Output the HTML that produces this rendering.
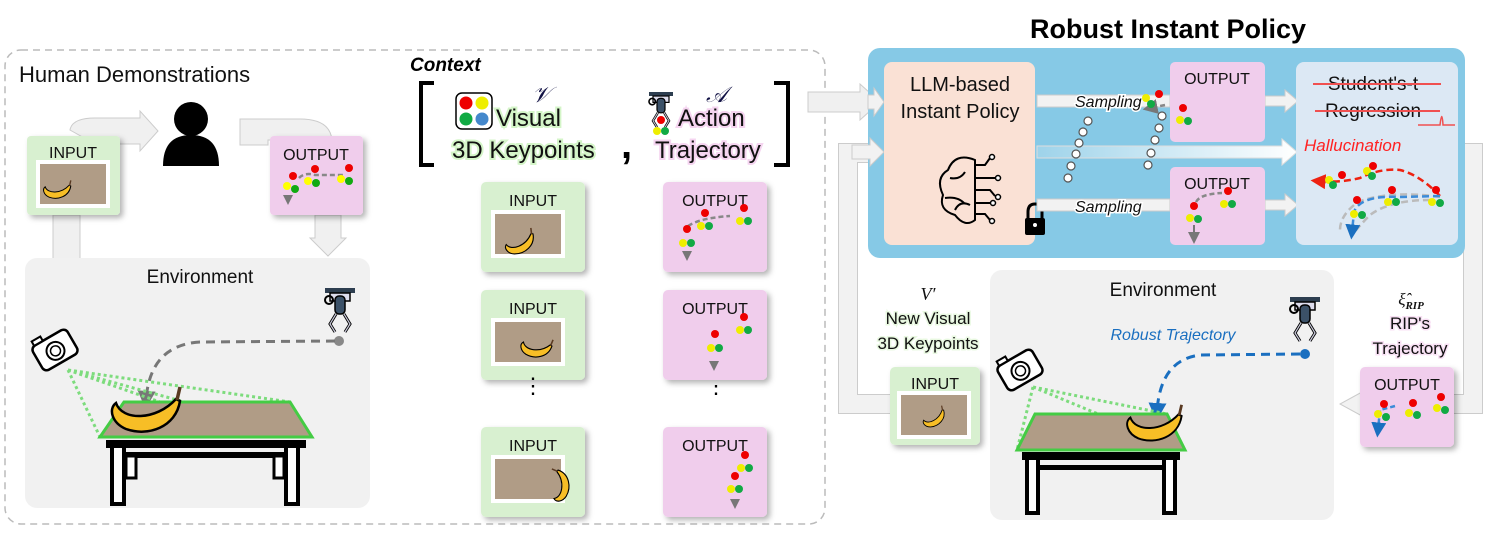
<!DOCTYPE html>
<html><head><meta charset="utf-8">
<style>
html,body{margin:0;padding:0;background:#fff;}
svg{display:block;font-family:"Liberation Sans",sans-serif;}
</style></head>
<body>
<svg width="1495" height="535" viewBox="0 0 1495 535" xmlns="http://www.w3.org/2000/svg">
<defs>
  <filter id="sh" x="-20%" y="-20%" width="150%" height="150%">
    <feDropShadow dx="3" dy="3" stdDeviation="3" flood-color="#000" flood-opacity="0.3"/>
  </filter>
  <marker id="ag" markerWidth="6" markerHeight="6" refX="3" refY="3" orient="auto"><path d="M0,0 L6,3 L0,6z" fill="#777"/></marker>
  <marker id="ab" markerWidth="6" markerHeight="6" refX="3" refY="3" orient="auto"><path d="M0,0 L6,3 L0,6z" fill="#1a6fc0"/></marker>
  <marker id="ar" markerWidth="6" markerHeight="6" refX="3" refY="3" orient="auto"><path d="M0,0 L6,3 L0,6z" fill="#e21"/></marker>
  <g id="robot">
    <rect x="-15" y="0" width="30" height="5" fill="#2d3e50"/>
    <rect x="-10" y="5" width="20" height="8" fill="#dde" stroke="#000" stroke-width="1.5"/>
    <rect x="-5" y="8" width="10" height="18" rx="4" fill="#3b5168" stroke="#000" stroke-width="1.5"/>
    <circle cx="-11" cy="12" r="4" fill="none" stroke="#000" stroke-width="2"/>
    <path d="M-4,26 L-10,36 L-5,44 M4,26 L10,36 L5,44" fill="none" stroke="#000" stroke-width="3"/>
    <path d="M-4,26 L-10,36 L-5,44 M4,26 L10,36 L5,44" fill="none" stroke="#ccd" stroke-width="1.2"/>
  </g>
  <g id="cam">
    <rect x="-20" y="-14" width="40" height="28" rx="5" fill="#fff" stroke="#000" stroke-width="2.5"/>
    <rect x="-16" y="-19" width="10" height="5" fill="#fff" stroke="#000" stroke-width="2"/>
    <circle cx="0" cy="1" r="9" fill="#fff" stroke="#000" stroke-width="2"/>
    <circle cx="0" cy="1" r="5" fill="none" stroke="#000" stroke-width="1.5"/>
  </g>
  <g id="banana">
    <path d="M-32,-8 C-26,10 8,10 28,-12 L32,-10 C28,16 0,26 -22,18 C-36,12 -40,-2 -32,-8 Z" fill="#f7be26" stroke="#000" stroke-width="2.5"/>
    <path d="M29,-11 L32,-24" stroke="#5a3a22" stroke-width="3.5"/>
  </g>
  <g id="thumb">
    <rect x="0" y="0" width="74" height="48" fill="#fff"/>
    <rect x="4" y="4" width="66" height="40" fill="#b09c86"/>
  </g>
</defs>

<rect x="5" y="50" width="820" height="474" rx="16" fill="none" stroke="#bbb" stroke-width="1.5" stroke-dasharray="7,5"/>
<text x="19" y="82" font-size="22" fill="#111">Human Demonstrations</text>

<g fill="#f0f0f0" stroke="#ccc" stroke-width="1">
  <path d="M70,130 Q72,118 95,118 L140,118 L140,111 L158,131 L140,151 L140,144 L95,144 Z"/>
  <path d="M240,119 L300,119 Q330,119 332,140 L268,140 L268,145 L240,145 Z"/>
  <rect x="53" y="215" width="27" height="45"/>
  <path d="M315,215 L341,215 L341,238 L346,238 L328,256 L310,238 L315,238 Z"/>
</g>
<circle cx="191" cy="119" r="17" fill="#000"/>
<path d="M163,166 Q163,135 191,135 Q219,135 219,166 Z" fill="#000"/>

<rect x="27" y="136" width="93" height="79" rx="4" fill="#d8f0d0" filter="url(#sh)"/>
<text x="73" y="158" font-size="16" text-anchor="middle" fill="#111">INPUT</text>
<use href="#thumb" x="36" y="160"/>
<g transform="translate(58,190) scale(0.4)"><use href="#banana"/></g>
<rect x="270" y="136" width="93" height="79" rx="4" fill="#f0cdec" filter="url(#sh)"/>
<text x="316" y="160" font-size="16" text-anchor="middle" fill="#111">OUTPUT</text>
<path d="M299,178 Q305,172 315,175 L345,175" stroke="#888" stroke-width="2.5" stroke-dasharray="5,3" fill="none"/>
<g><circle cx="293" cy="176" r="4" fill="#e00"/><circle cx="315" cy="169" r="4" fill="#e00"/><circle cx="349" cy="168" r="4" fill="#e00"/>
<circle cx="287" cy="186" r="4" fill="#ff0"/><circle cx="295" cy="189" r="4" fill="#1a1"/><circle cx="308" cy="181" r="4" fill="#ff0"/><circle cx="316" cy="183" r="4" fill="#1a1"/><circle cx="341" cy="179" r="4" fill="#ff0"/><circle cx="349" cy="181" r="4" fill="#1a1"/>
<path d="M283,195 L293,195 L288,205z" fill="#777"/></g>

<rect x="25" y="258" width="345" height="250" rx="12" fill="#f1f1f1"/>
<text x="200" y="283" font-size="19" text-anchor="middle" fill="#111">Environment</text>
<g transform="translate(340,288)"><use href="#robot"/></g>
<circle cx="339" cy="341" r="5" fill="#888"/>
<path d="M335,341 L200,342 Q150,345 146,400" stroke="#777" stroke-width="3" stroke-dasharray="9,6" fill="none" marker-end="url(#ag)"/>
<g transform="translate(55,350) rotate(-30)"><use href="#cam"/></g>
<path d="M68,370 L100,437 M68,370 L290,402 M68,370 L312,437 M68,370 L160,402" stroke="#7ddc7d" stroke-width="3" stroke-dasharray="3,3" fill="none"/>
<polygon points="100,437 124,402 290,402 312,437" fill="#b09c86" stroke="#4c4" stroke-width="3"/>
<path d="M106,440 L306,440 L306,448 L106,448z" fill="#000"/>
<rect x="112" y="446" width="12" height="58" fill="#fff" stroke="#000" stroke-width="4"/>
<rect x="286" y="446" width="12" height="58" fill="#fff" stroke="#000" stroke-width="4"/>
<rect x="125" y="452" width="160" height="6" fill="#000"/>
<rect x="126" y="456" width="10" height="22" fill="#fff" stroke="#000" stroke-width="3"/>
<rect x="274" y="456" width="10" height="22" fill="#fff" stroke="#000" stroke-width="3"/>
<g transform="translate(148,411) scale(1.0)"><use href="#banana"/></g>

<text x="410" y="71" font-size="19" font-weight="bold" font-style="italic" fill="#000">Context</text>
<path d="M434,83 L421,83 L421,165 L434,165" stroke="#000" stroke-width="4" fill="none"/>
<path d="M774,83 L788,83 L788,165 L774,165" stroke="#000" stroke-width="4" fill="none"/>
<text x="532" y="102" font-size="22" font-style="italic" font-family="Liberation Serif,serif" fill="#114">𝒱</text>
<rect x="456" y="93" width="36" height="36" rx="6" fill="#fff" stroke="#000" stroke-width="1.5"/>
<circle cx="466" cy="103" r="6.5" fill="#e00"/><circle cx="482" cy="103" r="6.5" fill="#ee0"/>
<circle cx="466" cy="119" r="6.5" fill="#1a4"/><circle cx="482" cy="119" r="6.5" fill="#48c"/>
<g font-size="24" fill="#111" style="paint-order:stroke" stroke="#d4f5c8" stroke-width="4">
<text x="496" y="126">Visual</text>
<text x="452" y="158">3D Keypoints</text>
</g>
<text x="621" y="158" font-size="40" font-weight="bold" fill="#000">,</text>
<text x="706" y="102" font-size="22" font-style="italic" font-family="Liberation Serif,serif" fill="#114">𝒜</text>
<g transform="translate(661,92) scale(0.8)"><use href="#robot"/></g>
<circle cx="661" cy="120" r="4" fill="#e00"/><circle cx="657" cy="131" r="4" fill="#ee0"/><circle cx="665" cy="131" r="4" fill="#1a4"/>
<g font-size="24" fill="#111" style="paint-order:stroke" stroke="#f5d4f0" stroke-width="4">
<text x="678" y="126">Action</text>
<text x="655" y="158">Trajectory</text>
</g>

<g>
  <rect x="481" y="182" width="104" height="90" rx="5" fill="#d8f0d0" filter="url(#sh)"/>
  <text x="533" y="206" font-size="16" text-anchor="middle" fill="#111">INPUT</text>
  <use href="#thumb" x="491" y="210"/>
  <g transform="translate(521,243) scale(0.45) rotate(-20)"><use href="#banana"/></g>

  <rect x="481" y="290" width="104" height="90" rx="5" fill="#d8f0d0" filter="url(#sh)"/>
  <text x="533" y="314" font-size="16" text-anchor="middle" fill="#111">INPUT</text>
  <use href="#thumb" x="491" y="318"/>
  <g transform="translate(537,348) scale(0.45) rotate(10)"><use href="#banana"/></g>

  <rect x="481" y="427" width="104" height="90" rx="5" fill="#d8f0d0" filter="url(#sh)"/>
  <text x="533" y="451" font-size="16" text-anchor="middle" fill="#111">INPUT</text>
  <use href="#thumb" x="491" y="455"/>
  <g transform="translate(560,485) scale(0.45) rotate(-80)"><use href="#banana"/></g>

  <text x="533" y="393" font-size="22" text-anchor="middle" fill="#000">⋮</text>
  <text x="716" y="393" font-size="22" text-anchor="middle" fill="#000">⋮</text>

  <rect x="663" y="182" width="104" height="90" rx="5" fill="#f0cdec" filter="url(#sh)"/>
  <text x="715" y="206" font-size="16" text-anchor="middle" fill="#111">OUTPUT</text>
  <path d="M688,226 Q700,218 730,216" stroke="#888" stroke-width="2.5" stroke-dasharray="5,3" fill="none"/>
  <circle cx="705" cy="213" r="4" fill="#e00"/><circle cx="744" cy="208" r="4" fill="#e00"/><circle cx="687" cy="229" r="4" fill="#e00"/>
  <circle cx="701" cy="226" r="4" fill="#ee0"/><circle cx="709" cy="226" r="4" fill="#1a4"/><circle cx="740" cy="221" r="4" fill="#ee0"/><circle cx="748" cy="221" r="4" fill="#1a4"/><circle cx="683" cy="243" r="4" fill="#ee0"/><circle cx="691" cy="243" r="4" fill="#1a4"/>
  <path d="M682,251 L692,251 L687,261z" fill="#777"/>

  <rect x="663" y="290" width="104" height="90" rx="5" fill="#f0cdec" filter="url(#sh)"/>
  <text x="715" y="314" font-size="16" text-anchor="middle" fill="#111">OUTPUT</text>
  <circle cx="744" cy="317" r="4" fill="#e00"/><circle cx="740" cy="330" r="4" fill="#ee0"/><circle cx="748" cy="330" r="4" fill="#1a4"/>
  <circle cx="715" cy="334" r="4" fill="#e00"/><circle cx="711" cy="348" r="4" fill="#ee0"/><circle cx="719" cy="348" r="4" fill="#1a4"/>
  <path d="M709,361 L719,361 L714,371z" fill="#777"/>

  <rect x="663" y="427" width="104" height="90" rx="5" fill="#f0cdec" filter="url(#sh)"/>
  <text x="715" y="451" font-size="16" text-anchor="middle" fill="#111">OUTPUT</text>
  <circle cx="745" cy="455" r="4" fill="#e00"/><circle cx="741" cy="468" r="4" fill="#ee0"/><circle cx="749" cy="468" r="4" fill="#1a4"/>
  <circle cx="735" cy="476" r="4" fill="#e00"/><circle cx="731" cy="489" r="4" fill="#ee0"/><circle cx="739" cy="489" r="4" fill="#1a4"/>
  <path d="M730,499 L740,499 L735,509z" fill="#777"/>
</g>

<text x="1168" y="38" font-size="27" font-weight="bold" text-anchor="middle" fill="#000">Robust Instant Policy</text>

<g fill="none">
  <path d="M1462,153 L1473,153 L1473,404 L1360,404" stroke="#ccc" stroke-width="20"/>
  <path d="M1462,153 L1473,153 L1473,404 L1360,404" stroke="#f2f2f2" stroke-width="18"/>
  <path d="M890,404 L848,404 L848,153 L870,153" stroke="#ccc" stroke-width="20"/>
  <path d="M890,404 L848,404 L848,153 L870,153" stroke="#f2f2f2" stroke-width="18"/>
</g>
<path d="M1362,392 L1340,404 L1362,416 Z" fill="#f2f2f2" stroke="#ccc"/>
<path d="M808,92 L860,92 L860,84 L880,102 L860,120 L860,112 L808,112 Z" fill="#f0f0f0" stroke="#ccc"/>

<rect x="868" y="48" width="597" height="210" rx="12" fill="#86c9e6"/>
<path d="M852,145 L870,145 L870,138 L884,152 L870,166 L870,159 L852,159Z" fill="#f2f2f2" stroke="#ccc"/>
<path d="M868,95 L874,95 L874,88 L884,102 L874,116 L874,109 L868,109Z" fill="#f2f2f2" stroke="#ccc"/>
<rect x="884" y="62" width="151" height="183" rx="8" fill="#fae1d5"/>
<text x="960" y="91" font-size="20" text-anchor="middle" fill="#111">LLM-based</text>
<text x="960" y="118" font-size="20" text-anchor="middle" fill="#111">Instant Policy</text>
<g stroke="#000" stroke-width="2" fill="none">
  <path d="M975,160 Q955,152 948,170 Q935,178 943,195 Q938,210 955,215 Q965,228 975,220 Z"/>
  <path d="M950,178 Q960,180 965,172 M945,198 Q958,196 965,204 M955,210 Q960,200 970,205"/>
  <path d="M975,165 L985,165 L990,158 M975,178 L995,178 M975,190 L990,190 L995,196 M975,203 L990,203 M975,214 L985,214 L990,220"/>
</g>
<g fill="#fff" stroke="#000" stroke-width="1.5"><circle cx="992" cy="157" r="2.5"/><circle cx="998" cy="178" r="2.5"/><circle cx="998" cy="197" r="2.5"/><circle cx="993" cy="203" r="2.5"/><circle cx="992" cy="221" r="2.5"/></g>
<path d="M1028,220 L1028,212 Q1028,204 1035,204 Q1042,204 1042,212 L1042,220" stroke="#000" stroke-width="3" fill="none"/>
<rect x="1025" y="218" width="20" height="17" rx="2" fill="#000"/>
<circle cx="1035" cy="225" r="2" fill="#fff"/>

<g fill="#f2f2f2" stroke="#ccc">
  <path d="M1037,95 L1170,95 L1170,107 L1037,107Z"/>
  <path d="M1037,199 L1170,199 L1170,211 L1037,211Z"/>
  <path d="M1265,96 L1285,96 L1285,90 L1298,101 L1285,112 L1285,106 L1265,106Z"/>
  <path d="M1265,200 L1285,200 L1285,194 L1298,205 L1285,216 L1285,210 L1265,210Z"/>
</g>
<defs><linearGradient id="fade" x1="0" x2="1"><stop offset="0" stop-color="#9ed3ea"/><stop offset="1" stop-color="#fff"/></linearGradient></defs>
<path d="M1037,146 L1282,146 L1282,139 L1297,152 L1282,165 L1282,158 L1037,158Z" fill="url(#fade)" stroke="#ddd"/>
<g font-size="16" font-style="italic" fill="#111" stroke="#fff" stroke-width="3" style="paint-order:stroke">
  <text x="1075" y="107">Sampling</text>
  <text x="1075" y="212">Sampling</text>
</g>
<g fill="#fff" stroke="#555" stroke-width="1.2">
  <circle cx="1088" cy="121" r="4"/><circle cx="1083" cy="132" r="4"/><circle cx="1079" cy="143" r="4"/><circle cx="1076" cy="154" r="4"/><circle cx="1071" cy="166" r="4"/><circle cx="1068" cy="178" r="4"/>
  <circle cx="1162" cy="116" r="4"/><circle cx="1159" cy="128" r="4"/><circle cx="1155" cy="140" r="4"/><circle cx="1151" cy="153" r="4"/><circle cx="1148" cy="165" r="4"/>
</g>
<rect x="1170" y="62" width="95" height="80" rx="5" fill="#f0cdec"/>
<text x="1217" y="84" font-size="16" text-anchor="middle" fill="#111">OUTPUT</text>
<path d="M1165,105 L1150,108" stroke="#888" stroke-width="2.5" stroke-dasharray="5,3" marker-end="url(#ag)"/>
<circle cx="1159" cy="94" r="4" fill="#e00"/><circle cx="1146" cy="98" r="4" fill="#ee0"/><circle cx="1151" cy="104" r="4" fill="#1a4"/>
<circle cx="1183" cy="108" r="4" fill="#e00"/><circle cx="1180" cy="120" r="4" fill="#ee0"/><circle cx="1188" cy="121" r="4" fill="#1a4"/>
<rect x="1170" y="167" width="95" height="78" rx="5" fill="#f0cdec"/>
<text x="1217" y="189" font-size="16" text-anchor="middle" fill="#111">OUTPUT</text>
<path d="M1196,202 Q1200,194 1222,193" stroke="#888" stroke-width="2.5" stroke-dasharray="5,3" fill="none"/>
<circle cx="1228" cy="191" r="4" fill="#e00"/><circle cx="1224" cy="204" r="4" fill="#ee0"/><circle cx="1232" cy="204" r="4" fill="#1a4"/>
<circle cx="1194" cy="206" r="4" fill="#e00"/><circle cx="1190" cy="218" r="4" fill="#ee0"/><circle cx="1198" cy="219" r="4" fill="#1a4"/>
<path d="M1194,225 L1194,238" stroke="#777" stroke-width="2" marker-end="url(#ag)"/>
<rect x="1296" y="62" width="162" height="183" rx="8" fill="#dce8f4"/>
<text x="1373" y="90" font-size="19" text-anchor="middle" fill="#111">Student's-t</text>
<text x="1373" y="117" font-size="19" text-anchor="middle" fill="#111">Regression</text>
<path d="M1313,84 L1441,84 M1315,111 L1440,111" stroke="#f05050" stroke-width="2"/>
<path d="M1418,125 L1440,125 Q1442,108 1443,125 L1455,125" stroke="#f05050" stroke-width="1.5" fill="none"/>
<text x="1304" y="151" font-size="17" font-style="italic" fill="#f22">Hallucination</text>
<path d="M1440,196 Q1420,175 1400,170 Q1380,168 1360,178 Q1340,183 1318,181" stroke="#e21" stroke-width="2.5" stroke-dasharray="7,4" fill="none" marker-end="url(#ar)"/>
<path d="M1440,197 Q1390,190 1358,202 Q1340,215 1340,230" stroke="#bbb" stroke-width="2.5" stroke-dasharray="7,4" fill="none"/>
<path d="M1430,200 Q1390,200 1370,215 Q1360,225 1352,235" stroke="#bbb" stroke-width="2.5" stroke-dasharray="7,4" fill="none"/>
<path d="M1440,196 L1400,197 Q1360,195 1354,212 L1352,232" stroke="#3b8bd8" stroke-width="2.5" stroke-dasharray="7,4" fill="none" marker-end="url(#ab)"/>
<circle cx="1342" cy="175" r="4" fill="#e00"/><circle cx="1329" cy="180" r="4" fill="#ee0"/><circle cx="1333" cy="185" r="4" fill="#1a4"/>
<circle cx="1373" cy="166" r="4" fill="#e00"/><circle cx="1367" cy="171" r="4" fill="#ee0"/><circle cx="1372" cy="176" r="4" fill="#1a4"/>
<circle cx="1436" cy="190" r="4" fill="#e00"/><circle cx="1432" cy="202" r="4" fill="#ee0"/><circle cx="1440" cy="203" r="4" fill="#1a4"/>
<circle cx="1392" cy="190" r="4" fill="#e00"/><circle cx="1388" cy="202" r="4" fill="#ee0"/><circle cx="1396" cy="202" r="4" fill="#1a4"/>
<circle cx="1357" cy="200" r="4" fill="#e00"/><circle cx="1354" cy="214" r="4" fill="#ee0"/><circle cx="1362" cy="215" r="4" fill="#1a4"/>

<rect x="990" y="270" width="344" height="250" rx="12" fill="#f1f1f1"/>
<text x="1163" y="296" font-size="19" text-anchor="middle" fill="#111">Environment</text>
<text x="1173" y="340" font-size="16" font-style="italic" fill="#1a6fc0" text-anchor="middle">Robust Trajectory</text>
<g transform="translate(1305,297)"><use href="#robot"/></g>
<circle cx="1305" cy="354" r="5" fill="#1a6fc0"/>
<path d="M1300,354 L1200,355 Q1160,360 1157,412" stroke="#1a6fc0" stroke-width="3" stroke-dasharray="9,6" fill="none" marker-end="url(#ab)"/>
<g transform="translate(1020,370) rotate(-30)"><use href="#cam"/></g>
<path d="M1033,387 L1017,450 M1033,387 L1167,414 M1033,387 L1185,450" stroke="#7ddc7d" stroke-width="3" stroke-dasharray="3,3" fill="none"/>
<polygon points="1017,450 1035,414 1167,414 1185,450" fill="#b09c86" stroke="#4c4" stroke-width="3"/>
<path d="M1022,452 L1180,452 L1180,460 L1022,460z" fill="#000"/>
<rect x="1027" y="458" width="11" height="55" fill="#fff" stroke="#000" stroke-width="4"/>
<rect x="1164" y="458" width="11" height="55" fill="#fff" stroke="#000" stroke-width="4"/>
<rect x="1038" y="465" width="126" height="5" fill="#000"/>
<g transform="translate(1156,424) scale(0.8)"><use href="#banana"/></g>

<text x="928" y="300" font-size="18" font-style="italic" font-family="Liberation Serif,serif" text-anchor="middle" fill="#111">V′</text>
<g font-size="17" fill="#111" text-anchor="middle" style="paint-order:stroke" stroke="#e8f8e0" stroke-width="3">
  <text x="928" y="324">New Visual</text>
  <text x="928" y="349">3D Keypoints</text>
</g>
<rect x="890" y="367" width="90" height="78" rx="5" fill="#d8f0d0" filter="url(#sh)"/>
<text x="935" y="389" font-size="16" text-anchor="middle" fill="#111">INPUT</text>
<use href="#thumb" x="897" y="391"/>
<g transform="translate(935,418) scale(0.35) rotate(-25)"><use href="#banana"/></g>

<text x="1411" y="305" font-size="17" font-style="italic" font-family="Liberation Serif,serif" text-anchor="middle" fill="#111">ξ̂<tspan font-size="11" font-weight="bold" dy="4">RIP</tspan></text>
<g font-size="17" fill="#111" text-anchor="middle" style="paint-order:stroke" stroke="#f8e0f4" stroke-width="3">
  <text x="1410" y="329">RIP's</text>
  <text x="1410" y="354">Trajectory</text>
</g>
<rect x="1360" y="367" width="94" height="80" rx="5" fill="#f0cdec" filter="url(#sh)"/>
<text x="1407" y="390" font-size="16" text-anchor="middle" fill="#111">OUTPUT</text>
<path d="M1395,406 L1380,410 L1378,430" stroke="#3b8bd8" stroke-width="2.5" stroke-dasharray="5,3" fill="none" marker-end="url(#ab)"/>
<circle cx="1384" cy="404" r="4" fill="#e00"/><circle cx="1378" cy="414" r="4" fill="#ee0"/><circle cx="1386" cy="417" r="4" fill="#1a4"/>
<circle cx="1413" cy="403" r="4" fill="#e00"/><circle cx="1409" cy="413" r="4" fill="#ee0"/><circle cx="1417" cy="415" r="4" fill="#1a4"/>
<circle cx="1441" cy="397" r="4" fill="#e00"/><circle cx="1437" cy="408" r="4" fill="#ee0"/><circle cx="1445" cy="410" r="4" fill="#1a4"/>
</svg>
</body></html>
